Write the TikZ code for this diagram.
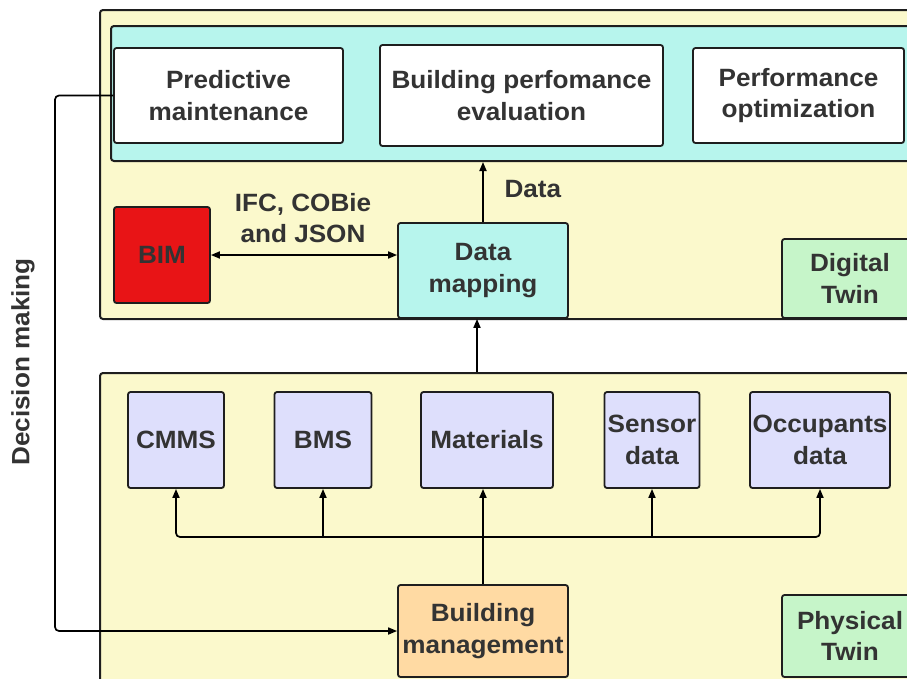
\documentclass[tikz,border=0pt]{standalone}
\usepackage{fontspec}
\setmainfont{Liberation Sans}[FakeStretch=1.045]
\usetikzlibrary{arrows.meta,calc}
\definecolor{bgyellow}{RGB}{251,249,204}
\definecolor{cyanbox}{RGB}{183,245,237}
\definecolor{redbox}{RGB}{232,20,22}
\definecolor{greenbox}{RGB}{198,245,201}
\definecolor{purplebox}{RGB}{222,223,252}
\definecolor{orangebox}{RGB}{255,218,163}
\definecolor{txt}{RGB}{51,51,51}
\definecolor{edge}{RGB}{30,30,30}
\tikzset{
  base/.style={draw=edge, line width=1.8pt, rounded corners=2.5pt, align=center,
    text=txt, font=\bfseries\fontsize{25}{31.5}\selectfont, inner sep=0pt},
  whitebox/.style={base, fill=white},
  purp/.style={base, fill=purplebox},
  container/.style={draw=edge, line width=2pt, rounded corners=3pt},
  conn/.style={draw=black, line width=1.7pt},
  arr/.style={conn, -{Triangle[length=9pt,width=7pt]}},
  darr/.style={conn, {Triangle[length=9pt,width=7pt]}-{Triangle[length=9pt,width=7pt]}},
  lbl/.style={text=txt, font=\bfseries\fontsize{25}{31.5}\selectfont, align=center}
}
\begin{document}
\begin{tikzpicture}[x=1pt,y=-1pt]
\useasboundingbox (0,0) rectangle (907,678);
\clip (0,0) rectangle (907,678);
% containers
\node[container, fill=bgyellow, minimum width=900pt, minimum height=309pt, anchor=north west, inner sep=0pt] (dtwin) at (99,9) {};
\node[container, fill=cyanbox, minimum width=880pt, minimum height=135pt, anchor=north west, inner sep=0pt] (apps) at (110,25) {};
\node[container, fill=bgyellow, minimum width=900pt, minimum height=400pt, anchor=north west, inner sep=0pt] (ptwin) at (99,372) {};
% application boxes
\node[whitebox, minimum width=229pt, minimum height=95pt] (pm) at (228.5,95.5) {Predictive\\maintenance};
\node[whitebox, minimum width=283pt, minimum height=101pt] (bpe) at (521.5,95.5) {Building perfomance\\evaluation};
\node[whitebox, minimum width=211pt, minimum height=95pt] (po) at (798.5,95.5) {Performance\\optimization};
% digital twin row
\node[base, fill=redbox, minimum width=96pt, minimum height=96pt] (bim) at (162,255) {BIM};
\node[base, fill=cyanbox, minimum width=170pt, minimum height=95pt] (dm) at (483,270.5) {Data\\mapping};
\node[base, fill=greenbox, minimum width=136pt, minimum height=79pt] (dt) at (850,278.5) {Digital\\Twin};
% physical twin row
\node[purp, minimum width=96pt, minimum height=96pt] (cmms) at (176,440) {CMMS};
\node[purp, minimum width=97pt, minimum height=96pt] (bms) at (323,440) {BMS};
\node[purp, minimum width=132pt, minimum height=96pt] (mat) at (487,440) {Materials};
\node[purp, minimum width=95pt, minimum height=96pt] (sens) at (652,440) {Sensor\\data};
\node[purp, minimum width=140pt, minimum height=96pt] (occ) at (820,440) {Occupants\\data};
\node[base, fill=orangebox, minimum width=170pt, minimum height=92pt] (bm) at (483,631) {Building\\management};
\node[base, fill=greenbox, minimum width=136pt, minimum height=82pt] (pt) at (850,636) {Physical\\Twin};
% labels
\node[lbl, anchor=west] (datalbl) at (501,189) {Data};
\node[lbl] (ifclbl) at (303,218) {IFC, COBie\\and JSON};
\node[lbl, rotate=90] (declbl) at (23,362) {Decision making};
% connectors
\coordinate (dl) at (55,0);
\coordinate (bus) at (0,537);
\draw[arr] (dm.north) -- (dm.north |- apps.south);
\draw[darr] (bim.east) -- (dm.west |- bim.east);
\draw[arr] ([xshift=-6pt]dm.south |- ptwin.north) -- ([xshift=-6pt]dm.south);
\draw[arr, rounded corners=4pt] (pm.west) -- (pm.west -| dl) |- (bm.west);
\draw[conn] (bm.north) -- (bm.north |- bus);
\draw[arr, rounded corners=4pt] (bm.north |- bus) -| (cmms.south);
\draw[arr, rounded corners=4pt] (bm.north |- bus) -| (occ.south);
\draw[arr] (bms.south |- bus) -- (bms.south);
\draw[arr] (bm.north |- bus) -- (bm.north |- mat.south);
\draw[arr] (sens.south |- bus) -- (sens.south);
\end{tikzpicture}
\end{document}
